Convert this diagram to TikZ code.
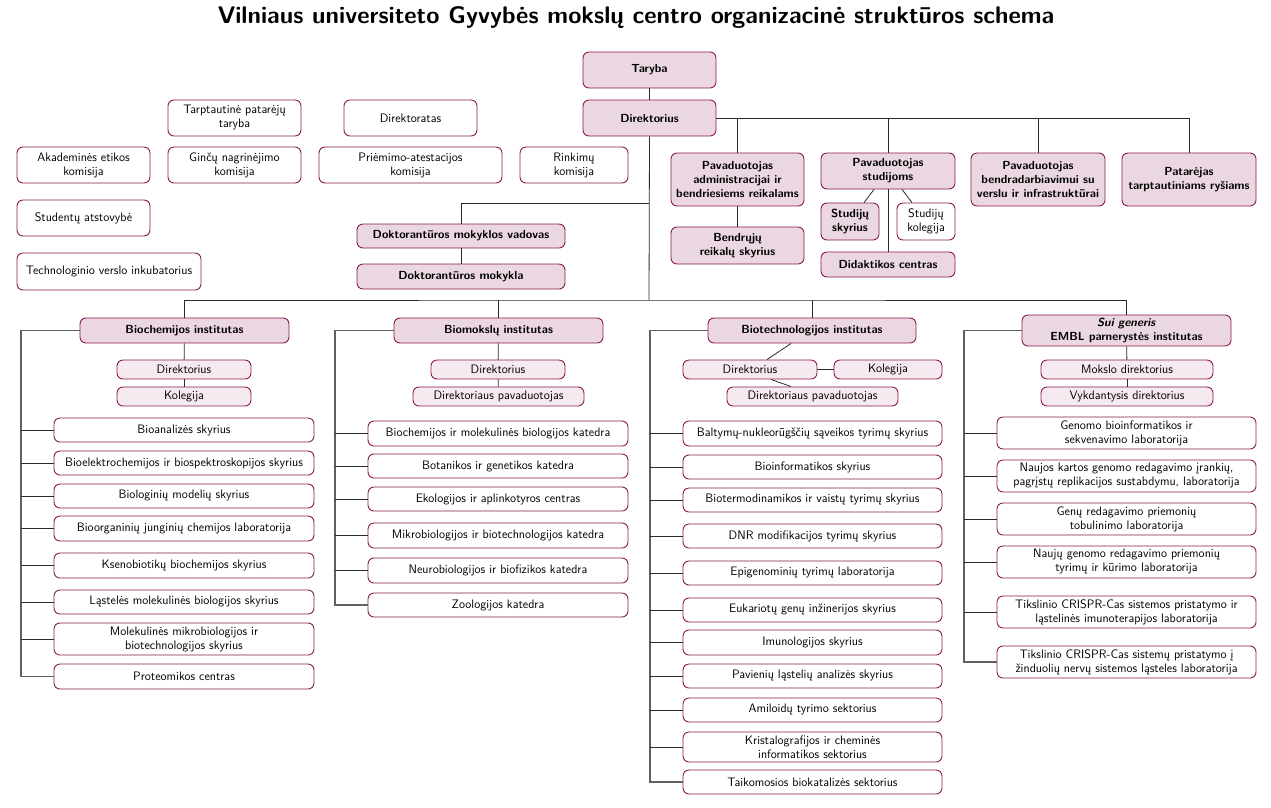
\documentclass[tikz,border=0pt]{standalone}
\usetikzlibrary{calc}
\definecolor{bord}{HTML}{8A1A50}
\definecolor{pinkf}{HTML}{EAD7E1}
\definecolor{pinkl}{HTML}{F5EAF0}
\definecolor{lnc}{HTML}{2A2A2A}
\definecolor{spc}{HTML}{606060}
\newcommand\fs{\sffamily\fontsize{12.3}{14}\selectfont}
\newcommand\fb{\sffamily\fontsize{11.7}{14}\selectfont\bfseries}
\tikzset{
 base/.style={draw=bord, line width=0.9pt, rounded corners=6pt, align=center, inner sep=1pt, font=\fs},
 wbox/.style={base, fill=white},
 pbox/.style={base, fill=pinkf, font=\fb},
 lbox/.style={base, fill=pinkl},
 conn/.style={draw=lnc, line width=0.8pt},
 spine/.style={draw=spc, line width=1.1pt},
}
\newcommand\bx[7]{\node[#6, minimum width={(#4-#2)*1pt}, minimum height={(#5-#3)*1pt}] (#1) at ({(#2+#4)/2},{(#3+#5)/2}) {#7};}
\begin{document}
\begin{tikzpicture}[x=1pt,y=-1pt]
\useasboundingbox (0,0) rectangle (1271,807);
\node[font=\sffamily\bfseries\fontsize{24}{28}\selectfont] (title) at (636,18) {Vilniaus universiteto Gyvybės mokslų centro organizacinė struktūros schema};
% top
\bx{taryba}{583}{52}{716}{88}{pbox}{Taryba}
\bx{dir}{583}{100}{716}{136}{pbox}{Direktorius}
\bx{tpt}{168}{100}{301}{136}{wbox}{Tarptautinė patarėjų\\taryba}
\bx{dirat}{344}{100}{477}{136}{wbox}{Direktoratas}
\bx{aek}{17}{147}{150}{183}{wbox}{Akademinės etikos\\komisija}
\bx{gnk}{168}{147}{301}{183}{wbox}{Ginčų nagrinėjimo\\komisija}
\bx{pak}{319}{147}{502}{183}{wbox}{Priėmimo-atestacijos\\komisija}
\bx{rk}{520}{147}{628}{183}{wbox}{Rinkimų\\komisija}
\bx{sa}{17}{200}{150}{236}{wbox}{Studentų atstovybė}
\bx{tvi}{17}{253}{201}{290}{wbox}{Technologinio verslo inkubatorius}
\bx{padm}{671}{153}{804}{206}{pbox}{Pavaduotojas\\administracijai ir\\bendriesiems reikalams}
\bx{pstud}{821}{153}{955}{189}{pbox}{Pavaduotojas\\studijoms}
\bx{pbend}{971}{153}{1105}{206}{pbox}{Pavaduotojas\\bendradarbiavimui su\\verslu ir infrastruktūrai}
\bx{ptar}{1122}{153}{1256}{206}{pbox}{Patarėjas\\tarptautiniams ryšiams}
\bx{brs}{671}{227}{804}{264}{pbox}{Bendrųjų\\reikalų skyrius}
\bx{ssk}{821}{203}{879}{240}{pbox}{Studijų\\skyrius}
\bx{skol}{897}{203}{955}{240}{wbox}{Studijų\\kolegija}
\bx{didc}{821}{252}{955}{277}{pbox}{Didaktikos centras}
\bx{dmv}{357}{224}{565}{248}{pbox}{Doktorantūros mokyklos vadovas}
\bx{dm}{357}{264}{565}{289}{pbox}{Doktorantūros mokykla}
% institute 1
\bx{bci}{80}{318}{289}{343}{pbox}{Biochemijos institutas}
\bx{bcd}{117}{360}{251}{379}{lbox}{Direktorius}
\bx{bck}{117}{387}{251}{406}{lbox}{Kolegija}
\bx{bcu1}{54}{418}{314}{442}{wbox}{Bioanalizės skyrius}
\bx{bcu2}{54}{451}{314}{475}{wbox}{Bioelektrochemijos ir biospektroskopijos skyrius}
\bx{bcu3}{54}{484}{314}{508}{wbox}{Biologinių modelių skyrius}
\bx{bcu4}{54}{516}{314}{541}{wbox}{Bioorganinių junginių chemijos laboratorija}
\bx{bcu5}{54}{553}{314}{578}{wbox}{Ksenobiotikų biochemijos skyrius}
\bx{bcu6}{54}{590}{314}{614}{wbox}{Ląstelės molekulinės biologijos skyrius}
\bx{bcu7}{54}{623}{314}{655}{wbox}{Molekulinės mikrobiologijos ir\\biotechnologijos skyrius}
\bx{bcu8}{54}{664}{314}{689}{wbox}{Proteomikos centras}
% institute 2
\bx{bmi}{394}{318}{603}{343}{pbox}{Biomokslų institutas}
\bx{bmd}{431}{360}{565}{379}{lbox}{Direktorius}
\bx{bmp}{413}{387}{584}{406}{lbox}{Direktoriaus pavaduotojas}
\bx{bmu1}{368}{421}{628}{446}{wbox}{Biochemijos ir molekulinės biologijos katedra}
\bx{bmu2}{368}{454}{628}{478}{wbox}{Botanikos ir genetikos katedra}
\bx{bmu3}{368}{487}{628}{511}{wbox}{Ekologijos ir aplinkotyros centras}
\bx{bmu4}{368}{523}{628}{548}{wbox}{Mikrobiologijos ir biotechnologijos katedra}
\bx{bmu5}{368}{558}{628}{583}{wbox}{Neurobiologijos ir biofizikos katedra}
\bx{bmu6}{368}{593}{628}{617}{wbox}{Zoologijos katedra}
% institute 3
\bx{bti}{708}{318}{916}{343}{pbox}{Biotechnologijos institutas}
\bx{btd}{683}{360}{817}{379}{lbox}{Direktorius}
\bx{btk}{834}{360}{942}{379}{lbox}{Kolegija}
\bx{btp}{727}{387}{898}{406}{lbox}{Direktoriaus pavaduotojas}
\bx{btu1}{683}{421}{942}{446}{wbox}{Baltymų-nukleorūgščių sąveikos tyrimų skyrius}
\bx{btu2}{683}{455}{942}{479}{wbox}{Bioinformatikos skyrius}
\bx{btu3}{683}{488}{942}{512}{wbox}{Biotermodinamikos ir vaistų tyrimų skyrius}
\bx{btu4}{683}{524}{942}{548}{wbox}{DNR modifikacijos tyrimų skyrius}
\bx{btu5}{683}{561}{942}{585}{wbox}{Epigenominių tyrimų laboratorija}
\bx{btu6}{683}{598}{942}{622}{wbox}{Eukariotų genų inžinerijos skyrius}
\bx{btu7}{683}{630}{942}{655}{wbox}{Imunologijos skyrius}
\bx{btu8}{683}{664}{942}{688}{wbox}{Pavienių ląstelių analizės skyrius}
\bx{btu9}{683}{698}{942}{722}{wbox}{Amiloidų tyrimo sektorius}
\bx{btu10}{683}{732}{942}{762}{wbox}{Kristalografijos ir cheminės\\informatikos sektorius}
\bx{btu11}{683}{770}{942}{794}{wbox}{Taikomosios biokatalizės sektorius}
% institute 4
\bx{embl}{1022}{315}{1231}{346}{pbox}{\textit{Sui generis}\\EMBL parnerystės institutas}
\bx{emd}{1041}{360}{1213}{379}{lbox}{Mokslo direktorius}
\bx{emv}{1041}{387}{1213}{406}{lbox}{Vykdantysis direktorius}
\bx{emu1}{997}{417}{1256}{449}{wbox}{Genomo bioinformatikos ir\\sekvenavimo laboratorija}
\bx{emu2}{997}{460}{1256}{492}{wbox}{Naujos kartos genomo redagavimo įrankių,\\pagrįstų replikacijos sustabdymu, laboratorija}
\bx{emu3}{997}{503}{1256}{535}{wbox}{Genų redagavimo priemonių\\tobulinimo laboratorija}
\bx{emu4}{997}{546}{1256}{578}{wbox}{Naujų genomo redagavimo priemonių\\tyrimų ir kūrimo laboratorija}
\bx{emu5}{997}{596}{1256}{628}{wbox}{Tikslinio CRISPR-Cas sistemos pristatymo ir\\ląstelinės imunoterapijos laboratorija}
\bx{emu6}{997}{646}{1256}{678}{wbox}{Tikslinio CRISPR-Cas sistemų pristatymo į\\žinduolių nervų sistemos ląsteles laboratorija}
% connectors top
\draw[conn] (taryba) -- (dir);
\draw[conn] (dir.east) -| (ptar.north);
\draw[conn] (padm.north) -- (padm.north |- dir.east);
\draw[conn] (pstud.north) -- (pstud.north |- dir.east);
\draw[conn] (pbend.north) -- (pbend.north |- dir.east);
\draw[conn] (padm) -- (brs);
\draw[conn] (pstud) -- (didc);
\draw[conn] ([xshift=-14pt]pstud.south) -- ([xshift=14pt]ssk.north);
\draw[conn] ([xshift=14pt]pstud.south) -- ([xshift=-14pt]skol.north);
\coordinate (bus) at (649,300);
\coordinate (dj) at (649,203);
\draw[conn] (dir.south) -- (bus);
\draw[conn] (dmv.north) |- (dj);
\draw[conn] (dmv) -- (dm);
\draw[conn] (bci.north) |- (bus) -| (embl.north);
\draw[conn] (bmi.north) -- (bmi.north |- bus);
\draw[conn] (bti.north) -- (bti.north |- bus);
% inside institutes
\draw[conn] (bci) -- (bcd);
\draw[conn] (bcd) -- (bck);
\draw[conn] (bmi) -- (bmd);
\draw[conn] (bmd) -- (bmp);
\draw[conn] ([xshift=-21pt]bti.south) -- ([xshift=17pt]btd.north);
\draw[conn] (btd) -- (btk);
\draw[conn] ([xshift=21pt]btd.south) -- ([xshift=-21.5pt]btp.north);
\draw[conn] (embl) -- (emd);
\draw[conn] (emd) -- (emv);
% spines
\coordinate (sp1) at (21,330);
\coordinate (sp2) at (335,330);
\coordinate (sp3) at (650,330);
\coordinate (sp4) at (964,330);
\draw[spine] (bci.west) -- (sp1 |- bci.west) |- (bcu8.west);
\foreach \u in {bcu1,bcu2,bcu3,bcu4,bcu5,bcu6,bcu7} \draw[conn] (\u.west) -- (sp1 |- \u.west);
\draw[spine] (bmi.west) -- (sp2 |- bmi.west) |- (bmu6.west);
\foreach \u in {bmu1,bmu2,bmu3,bmu4,bmu5} \draw[conn] (\u.west) -- (sp2 |- \u.west);
\draw[spine] (bti.west) -- (sp3 |- bti.west) |- (btu11.west);
\foreach \u in {btu1,btu2,btu3,btu4,btu5,btu6,btu7,btu8,btu9,btu10} \draw[conn] (\u.west) -- (sp3 |- \u.west);
\draw[spine] (embl.west) -- (sp4 |- embl.west) |- (emu6.west);
\foreach \u in {emu1,emu2,emu3,emu4,emu5} \draw[conn] (\u.west) -- (sp4 |- \u.west);
\end{tikzpicture}
\end{document}
